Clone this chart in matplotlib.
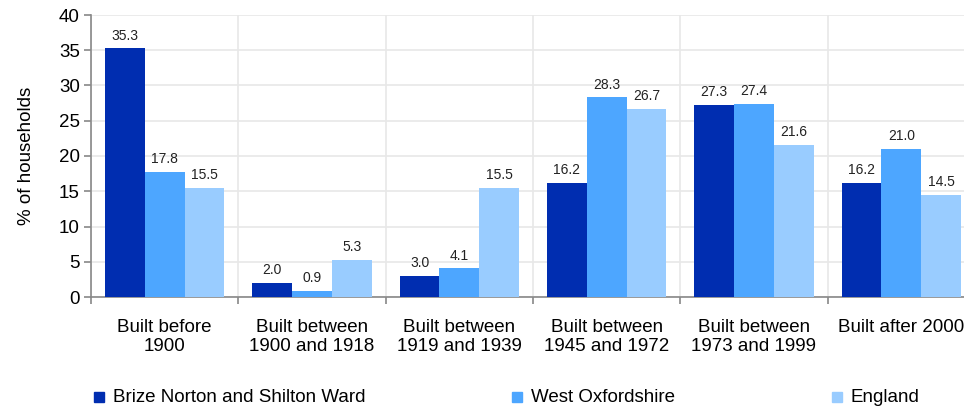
import matplotlib.pyplot as plt
import numpy as np

plt.rcParams['font.family'] = ['Liberation Sans', 'DejaVu Sans']

categories = ["Built before\n1900", "Built between\n1900 and 1918", "Built between\n1919 and 1939",
              "Built between\n1945 and 1972", "Built between\n1973 and 1999", "Built after 2000"]
series_names = ["Brize Norton and Shilton Ward", "West Oxfordshire", "England"]
ward = [35.3, 2.0, 3.0, 16.2, 27.3, 16.2]
district = [17.8, 0.9, 4.1, 28.3, 27.4, 21.0]
england = [15.5, 5.3, 15.5, 26.7, 21.6, 14.5]
colors = ["#002DB0", "#4DA6FF", "#99CCFF"]

W, H = 964, 409
fig = plt.figure(figsize=(W / 100, H / 100), dpi=100)
ax = fig.add_axes([91 / W, 1 - 297 / H, (975 - 91) / W, (297 - 15) / H])

n = len(categories)
x = np.arange(n)
bw = 0.27
for i, (vals, c) in enumerate(zip([ward, district, england], colors)):
    pos = x + (i - 1) * bw
    ax.bar(pos, vals, width=bw, color=c, zorder=3)
    for p, v in zip(pos, vals):
        ax.annotate(f"{v:.1f}", (p, v), xytext=(0, 4), textcoords="offset points",
                    ha="center", va="bottom", fontsize=10, color="#222222")

ax.set_xlim(-0.5, n - 0.5)
ax.set_ylim(0, 40)
ax.set_yticks(range(0, 41, 5))
ax.tick_params(axis='y', labelsize=13.5, length=5, color="#888888", width=1.2, pad=3)
ax.set_xticks(np.arange(-0.5, n, 1.0))
ax.set_xticklabels([])
ax.set_xticks(x, minor=True)
ax.set_xticklabels(categories, minor=True, fontsize=13.5)
ax.tick_params(axis='x', which='major', length=5, color="#888888", width=1.2)
ax.tick_params(axis='x', which='minor', length=0, pad=16)
for lbl in ax.get_xticklabels(minor=True):
    lbl.set_linespacing(1.15)

ax.grid(True, which='major', color="#E8E8E8", linewidth=1.2, zorder=0)
for s in ['top', 'right']:
    ax.spines[s].set_visible(False)
for s in ['left', 'bottom']:
    ax.spines[s].set_color("#888888")
    ax.spines[s].set_linewidth(1.2)

ax.set_ylabel("% of households", fontsize=13.5, labelpad=17)

# legend entries spread across the bottom
leg_x = [94, 512, 832]
for lx, name, c in zip(leg_x, series_names, colors):
    fig.patches.append(plt.Rectangle((lx / W, 1 - 402 / H), 10 / W, 10 / H,
                                     transform=fig.transFigure, color=c))
    fig.text((lx + 19) / W, 1 - 397 / H, name, fontsize=13.5, va="center", ha="left")

fig.savefig("out.png", dpi=100)
